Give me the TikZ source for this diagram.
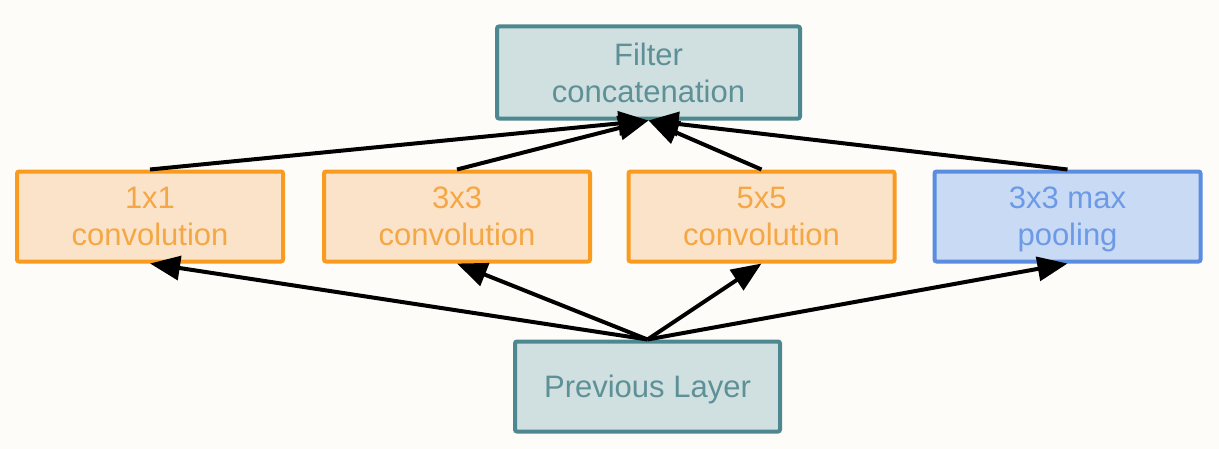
\documentclass[tikz,border=0pt]{standalone}
\usepackage{fontspec}
\setmainfont{Liberation Sans}
\usetikzlibrary{arrows.meta}

\definecolor{bgcol}{HTML}{FDFCF8}
\definecolor{tealdraw}{HTML}{4D8891}
\definecolor{tealfill}{HTML}{D0DFDF}
\definecolor{tealtext}{HTML}{5E9097}
\definecolor{orangedraw}{HTML}{F89B1E}
\definecolor{orangefill}{HTML}{FBE3CA}
\definecolor{orangetext}{HTML}{F4A744}
\definecolor{bluedraw}{HTML}{5A8DE0}
\definecolor{bluefill}{HTML}{C9DAF4}
\definecolor{bluetext}{HTML}{6C9AE6}

\begin{document}
\begin{tikzpicture}[x = 0.5pt, y = -0.5pt]
\tikzstyle{LayerStyle}=[shape = rectangle,
                        rounded corners = 1pt,
                        line width = 2pt,
                        align = center,
                        inner sep = 0pt,
                        text depth = 0pt,
                        font = \fontsize{15.5}{18.5}\selectfont,
                        draw]
\tikzstyle{tealbox}=[LayerStyle, draw = tealdraw, fill = tealfill, text = tealtext]
\tikzstyle{convbox}=[LayerStyle, draw = orangedraw, fill = orangefill, text = orangetext,
                     minimum width = 133pt, minimum height = 45pt]
\tikzstyle{poolbox}=[LayerStyle, draw = bluedraw, fill = bluefill, text = bluetext,
                     minimum width = 133pt, minimum height = 45pt]
\tikzstyle{post}=[-{Triangle[length = 15pt, width = 12pt]}, line width = 2pt, black]
\useasboundingbox[fill = bgcol] (0, 0) rectangle (1219, 449);
\node[tealbox, minimum width = 151.5pt, minimum height = 46pt] (concat) at (648.5, 72.5) {Filter\\concatenation};
\node[convbox] (conv1) at (150, 216.5) {1x1\\convolution};
\node[convbox] (conv3) at (457, 216.5) {3x3\\convolution};
\node[convbox] (conv5) at (761.5, 216.5) {5x5\\convolution};
\node[poolbox] (pool) at (1067.5, 216.5) {3x3 max\\pooling};
\node[tealbox, minimum width = 132.5pt, minimum height = 45pt] (prev) at (647.5, 386.5) {Previous Layer};
\draw[post] (prev.north) -- (conv1.south);
\draw[post] (prev.north) -- (conv3.south);
\draw[post] (prev.north) -- (conv5.south);
\draw[post] (prev.north) -- (pool.south);
\draw[post] (conv1.north) -- (concat.south);
\draw[post] (conv3.north) -- (concat.south);
\draw[post] (conv5.north) -- (concat.south);
\draw[post] (pool.north) -- (concat.south);
\end{tikzpicture}
\end{document}
